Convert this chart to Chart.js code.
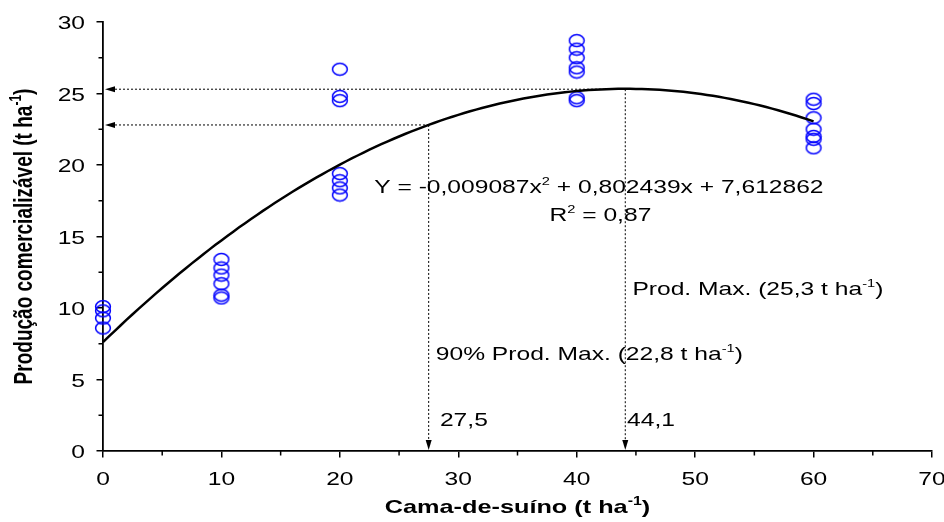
<!DOCTYPE html>
<html>
<head>
<meta charset="utf-8">
<script src="https://cdn.jsdelivr.net/npm/chart.js@4.4.0/dist/chart.umd.min.js"></script>
<style>
  html, body { margin: 0; padding: 0; background: #fff; }
  #wrap { width: 944px; height: 522px; }
</style>
</head>
<body>
<div id="wrap"><canvas id="producao"></canvas></div>
<script>
// doses de cama-de-suíno (t ha-1) e produção comercializável de cada repetição
const doses = [0, 10, 20, 40, 60];
const prodDose0 = [10.1, 9.8, 9.3, 8.6];
const prodDose10 = [13.4, 12.8, 12.3, 11.7, 10.9, 10.7];
const prodDose20 = [26.7, 24.8, 24.5, 19.4, 18.9, 18.4, 17.9];
const prodDose40 = [28.7, 28.1, 27.5, 26.8, 26.5, 24.7, 24.5];
const prodDose60 = [24.6, 24.3, 23.3, 22.5, 22.0, 21.8, 21.2];

// regressão quadrática ajustada
const coefA = -0.009087, coefB = 0.802439, coefC = 7.612862;
const r2 = '0,87';

// máxima produção e 90% da máxima
const doseMax = 44.1, prodMax = 25.3;
const dose90 = 27.5, prod90 = 22.8;

const yTicks = [0, 5, 10, 15, 20, 25, 30];
const xTicks = [0, 10, 20, 30, 40, 50, 60, 70];
const yMinor = [2.5, 7.5, 12.5, 17.5, 22.5, 27.5];
const xMinor = [5, 15, 25, 35, 45, 55, 65];

const FONT = '"Liberation Sans", Arial, sans-serif';
const SX = 1.33; // texto mais largo que alto

const observed = [];
[prodDose0, prodDose10, prodDose20, prodDose40, prodDose60].forEach((vals, i) => {
  vals.forEach(v => observed.push({ x: doses[i], y: v }));
});

const curve = [];
for (let d = 0; d <= 60; d += 0.5) {
  curve.push({ x: d, y: coefA * d * d + coefB * d + coefC });
}

function ovalMarker() {
  const c = document.createElement('canvas');
  c.width = 18; c.height = 15;
  const g = c.getContext('2d');
  g.strokeStyle = '#0000ff';
  g.lineWidth = 1.5;
  g.beginPath();
  g.ellipse(9, 7.5, 7.4, 5.9, 0, 0, Math.PI * 2);
  g.stroke();
  return c;
}

const num = v => String(v).replace('.', ',');

// desenha texto com partes sobrescritas: parts = [[texto, sobrescrito?], ...]
function richText(ctx, parts, x, y, o) {
  const size = o.size || 18.5;
  const w8 = o.bold ? 'bold ' : '';
  const base = w8 + size + 'px ' + FONT;
  const sup = w8 + Math.round(size * 0.62) + 'px ' + FONT;
  let w = 0;
  parts.forEach(p => { ctx.font = p[1] ? sup : base; w += ctx.measureText(p[0]).width; });
  ctx.save();
  ctx.translate(x, y);
  ctx.scale(SX, 1);
  if (o.rotate) ctx.rotate(o.rotate);
  ctx.fillStyle = '#000';
  ctx.textBaseline = 'alphabetic';
  ctx.textAlign = 'left';
  let cx = o.align === 'center' ? -w / 2 : o.align === 'right' ? -w : 0;
  parts.forEach(p => {
    ctx.font = p[1] ? sup : base;
    ctx.fillText(p[0], cx, p[1] ? -size * 0.42 : 0);
    cx += ctx.measureText(p[0]).width;
  });
  ctx.restore();
}

function arrowHead(ctx, x, y, dir) {
  const L = 10, H = 3;
  ctx.beginPath();
  if (dir === 'left') {
    ctx.moveTo(x, y); ctx.lineTo(x + L, y - H); ctx.lineTo(x + L, y + H);
  } else {
    ctx.moveTo(x, y); ctx.lineTo(x - H, y - L); ctx.lineTo(x + H, y - L);
  }
  ctx.closePath();
  ctx.fill();
}

const isMajor = (v, step) => Math.abs(v / step - Math.round(v / step)) < 1e-6;

const guides = {
  id: 'guides',
  beforeDatasetsDraw(chart) {
    const { ctx, scales: { x, y } } = chart;
    ctx.save();
    ctx.strokeStyle = '#000';
    ctx.fillStyle = '#000';
    ctx.lineWidth = 1;
    ctx.setLineDash([2, 2]);
    [[doseMax, prodMax], [dose90, prod90]].forEach(([d, p]) => {
      const px = x.getPixelForValue(d), py = y.getPixelForValue(p);
      const x0 = x.getPixelForValue(0), y0 = y.getPixelForValue(0);
      ctx.beginPath();
      ctx.moveTo(x0 + 8, py); ctx.lineTo(px, py);
      ctx.moveTo(px, py); ctx.lineTo(px, y0 - 8);
      ctx.stroke();
    });
    ctx.setLineDash([]);
    [[doseMax, prodMax], [dose90, prod90]].forEach(([d, p]) => {
      arrowHead(ctx, x.getPixelForValue(0) + 2, y.getPixelForValue(p), 'left');
      arrowHead(ctx, x.getPixelForValue(d), y.getPixelForValue(0) - 1, 'down');
    });
    ctx.restore();
  },
  afterDraw(chart) {
    const { ctx, chartArea: a, scales: { x, y } } = chart;
    // marcas secundárias, mais curtas
    ctx.save();
    ctx.strokeStyle = '#000';
    ctx.lineWidth = 1.5;
    ctx.beginPath();
    yMinor.forEach(v => { const py = y.getPixelForValue(v); ctx.moveTo(a.left - 4.5, py); ctx.lineTo(a.left, py); });
    xMinor.forEach(v => { const px = x.getPixelForValue(v); ctx.moveTo(px, a.bottom); ctx.lineTo(px, a.bottom + 4.5); });
    ctx.stroke();
    ctx.restore();

    // rótulos dos eixos
    yTicks.forEach(v => richText(ctx, [[String(v), false]], a.left - 18, y.getPixelForValue(v) + 7, { align: 'right' }));
    xTicks.forEach(v => richText(ctx, [[String(v), false]], x.getPixelForValue(v), a.bottom + 34, { align: 'center' }));
    richText(ctx, [['Cama-de-suíno (t ha', false], ['-1', true], [')', false]],
      (a.left + a.right) / 2, 513, { align: 'center', bold: true, size: 19 });
    richText(ctx, [['Produção comercializável (t ha', false], ['-1', true], [')', false]],
      32, (a.top + a.bottom) / 2, { align: 'center', bold: true, size: 19, rotate: -Math.PI / 2 });

    // anotações
    const at = (dx, dy) => [x.getPixelForValue(dx), y.getPixelForValue(dy)];
    let p = at(22.9, 18.05);
    richText(ctx, [['Y = ' + num(coefA) + 'x', false], ['2', true],
      [' + ' + num(coefB) + 'x + ' + num(coefC), false]], p[0], p[1], {});
    p = at(37.7, 16.1);
    richText(ctx, [['R', false], ['2', true], [' = ' + r2, false]], p[0], p[1], {});
    p = at(44.7, 10.9);
    richText(ctx, [['Prod. Max. (' + num(prodMax) + ' t ha', false], ['-1', true], [')', false]], p[0], p[1], {});
    p = at(28.1, 6.35);
    richText(ctx, [['90% Prod. Max. (' + num(prod90) + ' t ha', false], ['-1', true], [')', false]], p[0], p[1], {});
    p = at(dose90 + 0.95, 1.75);
    richText(ctx, [[num(dose90), false]], p[0], p[1], {});
    p = at(doseMax + 0.15, 1.75);
    richText(ctx, [[num(doseMax), false]], p[0], p[1], {});
  }
};

new Chart(document.getElementById('producao'), {
  type: 'scatter',
  data: {
    datasets: [
      {
        type: 'line',
        data: curve,
        borderColor: '#000',
        borderWidth: 2.5,
        pointRadius: 0,
        fill: false,
        clip: false
      },
      {
        data: observed,
        pointStyle: ovalMarker(),
        pointRadius: 7,
        clip: false
      }
    ]
  },
  options: {
    responsive: true,
    maintainAspectRatio: false,
    animation: false,
    events: [],
    layout: { padding: { top: 22, right: 12, left: 0, bottom: 0 } },
    plugins: {
      legend: { display: false },
      tooltip: { enabled: false }
    },
    scales: {
      x: {
        type: 'linear',
        min: 0,
        max: 70,
        ticks: { display: false, stepSize: 5 },
        grid: {
          drawOnChartArea: false, lineWidth: 1.5, tickLength: 6.5,
          color: c => isMajor(c.tick.value, 10) ? '#000' : 'rgba(0,0,0,0)'
        },
        border: { color: '#000', width: 1.8 },
        afterFit: s => { s.height = 71; }
      },
      y: {
        min: 0,
        max: 30,
        ticks: { display: false, stepSize: 2.5 },
        grid: {
          drawOnChartArea: false, lineWidth: 1.5, tickLength: 6.5,
          color: c => isMajor(c.tick.value, 5) ? '#000' : 'rgba(0,0,0,0)'
        },
        border: { color: '#000', width: 1.8 },
        afterFit: s => { s.width = 103; }
      }
    }
  },
  plugins: [guides]
});
</script>
</body>
</html>
